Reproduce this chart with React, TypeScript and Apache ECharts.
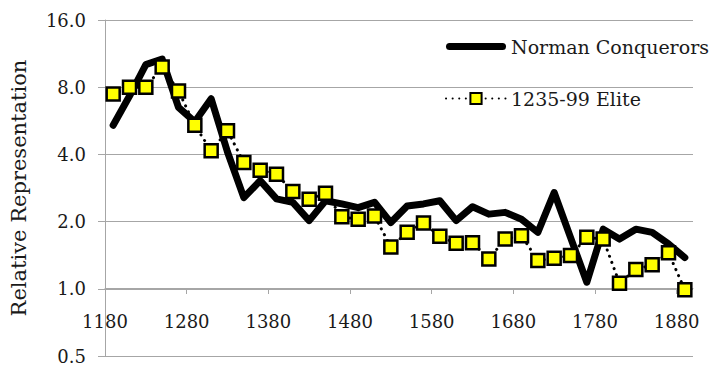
import React, { useEffect, useRef } from "react";
import * as echarts from "echarts";

const years = [
  1190, 1210, 1230, 1250, 1270, 1290, 1310, 1330, 1350, 1370, 1390, 1410,
  1430, 1450, 1470, 1490, 1510, 1530, 1550, 1570, 1590, 1610, 1630, 1650,
  1670, 1690, 1710, 1730, 1750, 1770, 1790, 1810, 1830, 1850, 1870, 1890,
];

const normanConquerors = [
  5.4, 7.3, 10.1, 10.7, 6.5, 5.6, 7.1, 4.1, 2.56, 3.05, 2.53, 2.44,
  2.02, 2.48, 2.4, 2.31, 2.44, 1.98, 2.35, 2.4, 2.48, 2.02, 2.33, 2.16,
  2.2, 2.05, 1.79, 2.7, 1.7, 1.07, 1.85, 1.67, 1.85, 1.79, 1.59, 1.38,
];

const elite123599 = [
  7.45, 8.0, 8.0, 9.86, 7.7, 5.4, 4.15, 5.1, 3.68, 3.4, 3.26, 2.73,
  2.52, 2.68, 2.1, 2.05, 2.12, 1.54, 1.79, 1.97, 1.72, 1.6, 1.61, 1.36,
  1.67, 1.73, 1.34, 1.37, 1.41, 1.7, 1.67, 1.06, 1.22, 1.28, 1.45, 0.99,
];

const seriesNames = ["Norman Conquerors", "1235-99 Elite"];
const xStartYear = 1180;
const xEndYear = 1900;
const xTickYears = [1180, 1280, 1380, 1480, 1580, 1680, 1780, 1880];
const yAxisTitle = "Relative Representation";

const FONT = "DejaVu Serif";
const TEXT_COLOR = "#1a1a1a";
const GRID_COLOR = "#a6a6a6";

const thickLineIcon =
  "path://M3.5,0 L56.5,0 A3.5,3.5 0 0 1 56.5,7 L3.5,7 A3.5,3.5 0 0 1 3.5,0 Z";

export default function App() {
  const ref = useRef<HTMLDivElement>(null);

  useEffect(() => {
    if (!ref.current) return;
    const chart = echarts.init(ref.current, undefined, { renderer: "svg" });
    const toX = (y: number) => y - xStartYear;

    chart.setOption({
      animation: false,
      backgroundColor: "#ffffff",
      textStyle: { fontFamily: FONT },
      grid: { left: 105, right: 16, top: 20, bottom: 17, containLabel: false },
      legend: {
        data: [
          {
            name: seriesNames[0],
            icon: thickLineIcon,
            itemStyle: { color: "#000000" },
          },
          { name: seriesNames[1] },
        ],
        orient: "vertical",
        left: 445,
        top: 37,
        padding: 0,
        itemWidth: 60,
        itemHeight: 14,
        itemGap: 33,
        symbolKeepAspect: true,
        textStyle: { fontSize: 19, fontFamily: FONT, color: TEXT_COLOR },
      },
      xAxis: {
        type: "value",
        min: 0,
        max: toX(xEndYear),
        interval: 100,
        offset: -68,
        axisLine: { show: true, lineStyle: { color: GRID_COLOR, width: 1 } },
        axisTick: {
          show: true,
          length: 6,
          lineStyle: { color: GRID_COLOR },
          customValues: xTickYears.slice(1).map(toX),
        },
        axisLabel: {
          customValues: xTickYears.map(toX),
          formatter: (v: number) => String(v + xStartYear),
          fontSize: 18,
          fontFamily: FONT,
          color: TEXT_COLOR,
          margin: 24,
        },
        splitLine: { show: false },
      },
      yAxis: {
        type: "log",
        logBase: 2,
        min: 0.5,
        max: 16,
        splitNumber: 5,
        name: yAxisTitle,
        nameLocation: "middle",
        nameRotate: 90,
        nameGap: 76,
        nameTextStyle: { fontSize: 21, fontFamily: FONT, color: TEXT_COLOR },
        axisLine: { show: true, lineStyle: { color: GRID_COLOR, width: 1 } },
        axisTick: { show: true, length: 7, lineStyle: { color: GRID_COLOR } },
        axisLabel: {
          formatter: (v: number) => v.toFixed(1),
          fontSize: 18,
          fontFamily: FONT,
          color: TEXT_COLOR,
          margin: 19,
        },
        splitLine: { show: true, lineStyle: { color: GRID_COLOR, width: 1 } },
      },
      series: [
        {
          name: seriesNames[0],
          type: "line",
          data: years.map((y, i) => [toX(y), normanConquerors[i]]),
          symbol: "none",
          lineStyle: { color: "#000000", width: 7, cap: "round", join: "round" },
          itemStyle: { color: "#000000" },
          z: 2,
        },
        {
          name: seriesNames[1],
          type: "line",
          data: years.map((y, i) => [toX(y), elite123599[i]]),
          symbol: "rect",
          symbolSize: 13,
          itemStyle: { color: "#ffff00", borderColor: "#000000", borderWidth: 2.5 },
          lineStyle: { color: "#000000", width: 3, type: [0.1, 6.5], cap: "round" },
          z: 3,
        },
      ],
    });

    return () => chart.dispose();
  }, []);

  return (
    <div
      ref={ref}
      style={{ position: "fixed", left: 0, top: 0, width: 709, height: 373 }}
    />
  );
}
